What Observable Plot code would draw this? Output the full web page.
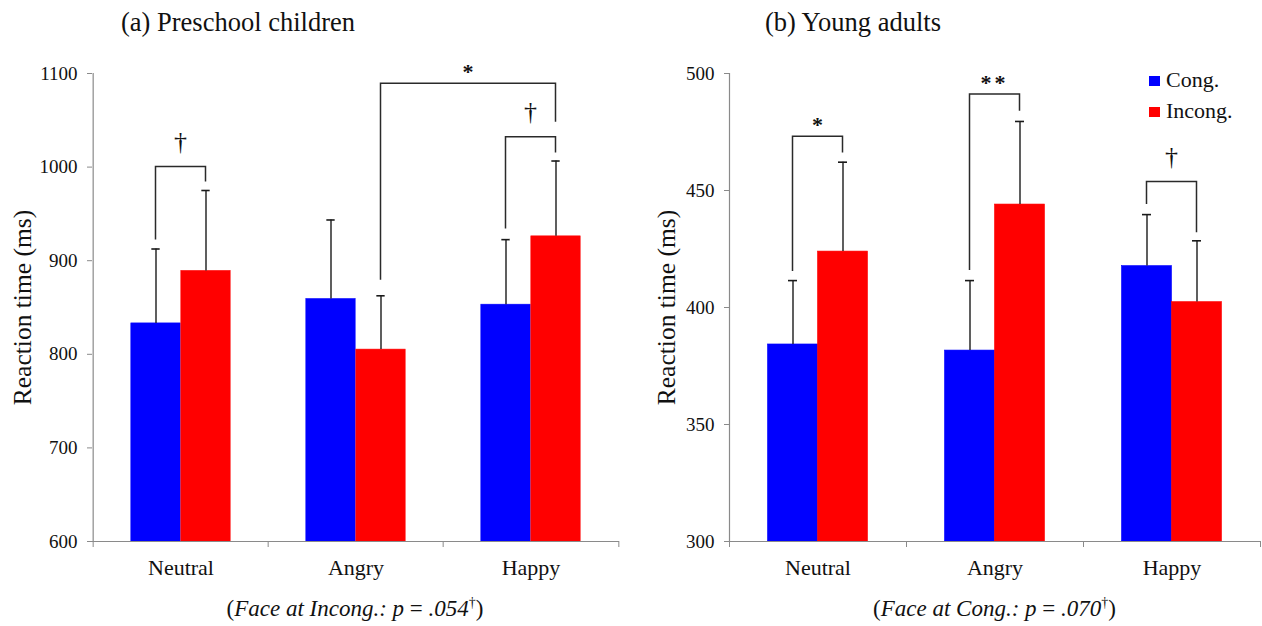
<!DOCTYPE html>
<html>
<head>
<meta charset="utf-8">
<script src="https://cdn.jsdelivr.net/npm/d3@7"></script>
<script src="https://cdn.jsdelivr.net/npm/@observablehq/plot@0.6"></script>
<style>
  body { margin: 0; background: #fff; font-family: "Liberation Serif", "Times New Roman", serif; color: #111; }
  #wrap { position: relative; width: 1262px; height: 626px; overflow: hidden; background: #fff; }
  .panel { position: absolute; top: 0; }
  .title { position: absolute; font-size: 26.5px; line-height: 26.5px; white-space: nowrap; }
  .caption { position: absolute; font-size: 23px; line-height: 23px; white-space: nowrap; transform: translateX(-50%); }
  .caption sup { font-size: 14px; line-height: 0; vertical-align: 9px; font-style: normal; }
  .legtext { position: absolute; font-size: 22px; line-height: 22px; white-space: nowrap; }
  .legsw { position: absolute; width: 11px; height: 10px; }
</style>
</head>
<body>
<div id="wrap"></div>
<script>
// ---- data ----
const categories = ["Neutral", "Angry", "Happy"];
const conditions = ["Cong.", "Incong."];
const conditionColors = ["#0000ff", "#ff0000"];

// (a) Preschool children
const childCong = [833, 859, 853];
const childIncong = [889, 805, 926];
const childCongSE = [79.5, 84.5, 69.5];
const childIncongSE = [86, 57.5, 80.5];
const childTicks = [600, 700, 800, 900, 1000, 1100];
const childBrackets = [
  {from: ["Neutral", "Cong."], to: ["Neutral", "Incong."], top: 1000, legFrom: 922, legTo: 984, label: "†"},
  {from: ["Happy", "Cong."], to: ["Happy", "Incong."], top: 1032, legFrom: 934, legTo: 1015, label: "†"},
  {from: ["Angry", "Incong."], to: ["Happy", "Incong."], top: 1089, legFrom: 879, legTo: 1048, label: "*"}
];

// (b) Young adults
const adultCong = [384.2, 381.6, 417.7];
const adultIncong = [423.9, 444, 402.3];
const adultCongSE = [27.3, 29.9, 22];
const adultIncongSE = [38.2, 35.5, 26.2];
const adultTicks = [300, 350, 400, 450, 500];
const adultBrackets = [
  {from: ["Neutral", "Cong."], to: ["Neutral", "Incong."], top: 473, legFrom: 415.4, legTo: 466, label: "*"},
  {from: ["Angry", "Cong."], to: ["Angry", "Incong."], top: 491, legFrom: 415.8, legTo: 483.9, label: "**"},
  {from: ["Happy", "Cong."], to: ["Happy", "Incong."], top: 453.6, legFrom: 444, legTo: 431.9, label: "†"}
];

const yLabel = "Reaction time (ms)";

// ---- drawing ----
const side = {"Cong.": -1, "Incong.": 1};

function drawPanel({cong, incong, congSE, incongSE, ticks, brackets, width, marginLeft, marginRight, labelX}) {
  const height = 590, marginTop = 73, marginBottom = 49;
  const step = (width - marginLeft - marginRight) / categories.length;
  const barW = 50;
  const yDomain = [ticks[0], ticks[ticks.length - 1]];
  const rows = categories.flatMap((c, i) => [
    {category: c, condition: "Cong.", mean: cong[i], se: congSE[i]},
    {category: c, condition: "Incong.", mean: incong[i], se: incongSE[i]}
  ]);
  const marks = [];
  // bars
  for (const cond of conditions) {
    const s = side[cond];
    const sub = rows.filter(d => d.condition === cond);
    marks.push(Plot.barY(sub, {
      x: "category", y1: yDomain[0], y2: "mean", fill: "condition", stroke: "condition", strokeWidth: 0.6,
      insetLeft: s < 0 ? step / 2 - barW : step / 2,
      insetRight: s < 0 ? step / 2 : step / 2 - barW
    }));
  }
  // error bars
  for (const cond of conditions) {
    const s = side[cond];
    const sub = rows.filter(d => d.condition === cond);
    marks.push(Plot.ruleX(sub, {x: "category", y1: "mean", y2: d => d.mean + d.se, dx: s * barW / 2, stroke: "#1a1a1a", strokeWidth: 1.4}));
    marks.push(Plot.tickY(sub, {x: "category", y: d => d.mean + d.se, dx: s * barW / 2, insetLeft: step / 2 - 4.5, insetRight: step / 2 - 4.5, stroke: "#1a1a1a", strokeWidth: 1.6}));
  }
  // axes
  const fmt = d => `${d}`;
  marks.push(Plot.ruleY([yDomain[0]], {stroke: "#8a8a8a", strokeWidth: 1.2}));
  marks.push(Plot.ruleX([categories[0]], {dx: -step / 2, stroke: "#8a8a8a", strokeWidth: 1.2}));
  marks.push(Plot.axisY({ticks, tickSize: 5, text: null, stroke: "#8a8a8a", label: null}));
  marks.push(Plot.axisY({ticks, tickSize: 0, tickPadding: 15, fontSize: 19, tickFormat: fmt, label: null}));
  marks.push(Plot.axisX({ticks: categories, tickSize: 6, text: null, dx: -step / 2, stroke: "#8a8a8a", label: null}));
  marks.push(Plot.axisX({ticks: [categories[categories.length - 1]], tickSize: 6, text: null, dx: step / 2, stroke: "#8a8a8a", label: null}));
  marks.push(Plot.axisX({ticks: categories, tickSize: 0, tickPadding: 18, fontSize: 22, label: null}));
  // y label
  marks.push(Plot.text([yLabel], {frameAnchor: "left", rotate: -90, dx: -(marginLeft - labelX), textAnchor: "middle", lineAnchor: "middle", fontSize: 25.5}));
  // significance brackets
  marks.push((index, scales) => {
    const x = scales.x, y = scales.y;
    const bw = x.bandwidth ? x.bandwidth() : step;
    const px = ([cat, cond]) => x(cat) + bw / 2 + side[cond] * barW / 2;
    const g = d3.create("svg:g");
    for (const b of brackets) {
      const xa = px(b.from), xb = px(b.to), yt = y(b.top);
      g.append("path")
        .attr("d", `M${xa},${y(b.legFrom)}V${yt}H${xb}V${y(b.legTo)}`)
        .attr("fill", "none").attr("stroke", "#2a2a2a").attr("stroke-width", 1.5);
      const isDagger = b.label === "†";
      g.append("text")
        .attr("x", (xa + xb) / 2)
        .attr("y", yt - (isDagger ? 17 : 4))
        .attr("text-anchor", "middle")
        .attr("font-size", isDagger ? 26 : 22)
        .attr("font-weight", isDagger ? "normal" : "bold")
        .attr("letter-spacing", b.label === "**" ? 3 : 0)
        .attr("fill", "#111")
        .text(b.label);
    }
    return g.node();
  });
  return Plot.plot({
    width, height, marginLeft, marginRight, marginTop, marginBottom,
    style: {fontFamily: "'Liberation Serif', 'Times New Roman', serif", background: "transparent", color: "#111", overflow: "visible"},
    x: {domain: categories, padding: 0, axis: null},
    y: {domain: yDomain, axis: null},
    color: {domain: conditions, range: conditionColors},
    marks
  });
}

const wrap = document.getElementById("wrap");

function place(node, left) {
  node.classList.add("panel");
  node.style.left = left + "px";
  wrap.appendChild(node);
}

place(drawPanel({cong: childCong, incong: childIncong, congSE: childCongSE, incongSE: childIncongSE,
  ticks: childTicks, brackets: childBrackets, width: 630, marginLeft: 92, marginRight: 11, labelX: 22}), 0);
place(drawPanel({cong: adultCong, incong: adultIncong, congSE: adultCongSE, incongSE: adultIncongSE,
  ticks: adultTicks, brackets: adultBrackets, width: 626, marginLeft: 93, marginRight: 2, labelX: 30}), 636);

function addDiv(cls, html, styles) {
  const d = document.createElement("div");
  d.className = cls;
  d.innerHTML = html;
  Object.assign(d.style, styles);
  wrap.appendChild(d);
  return d;
}
addDiv("title", "(a) Preschool children", {left: "121px", top: "9.3px"});
addDiv("title", "(b) Young adults", {left: "765px", top: "9.3px"});
addDiv("caption", "(<i>Face at Incong.: p</i> = <i>.054</i><sup>†</sup>)", {left: "355px", top: "596.7px"});
addDiv("caption", "(<i>Face at Cong.: p</i> = <i>.070</i><sup>†</sup>)", {left: "994.5px", top: "596.7px"});
// legend
conditions.forEach((c, i) => {
  addDiv("legsw", "", {left: "1149px", top: (76 + i * 31) + "px", background: conditionColors[i]});
  addDiv("legtext", c, {left: "1166px", top: (68.6 + i * 31) + "px"});
});
</script>
</body>
</html>
